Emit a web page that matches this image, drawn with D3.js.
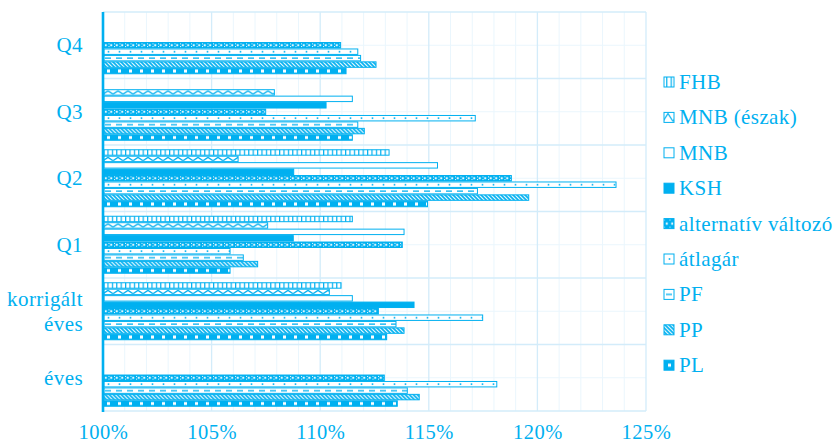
<!DOCTYPE html>
<html>
<head>
<meta charset="utf-8">
<script src="https://cdn.jsdelivr.net/npm/d3@7"></script>
<style>
  html, body { margin: 0; padding: 0; background: #ffffff; }
  svg { display: block; }
  svg text { font-family: "Liberation Serif", "Times New Roman", serif; fill: #00b0f0; }
</style>
</head>
<body>
<svg id="chart" width="835" height="442"></svg>
<script>
// ---- data ----
const categories = ["éves", "korrigált éves", "Q1", "Q2", "Q3", "Q4"];
const seriesNames = ["FHB", "MNB (észak)", "MNB", "KSH", "alternatív változó", "átlagár", "PF", "PP", "PL"];
const FHB      = [null,   110.96, 111.48, 113.17, null,   null];
const MNB_eszak= [null,   110.42, 107.58, 106.22, 107.89, null];
const MNB      = [null,   111.48, 113.86, 115.40, 111.48, null];
const KSH      = [null,   114.32, 108.76, 108.78, 110.27, null];
const alternativ=[112.95, 112.68, 113.78, 118.80, 107.49, 110.94];
const atlagar  = [118.13, 117.48, 105.85, 123.62, 117.14, 111.73];
const PF       = [114.01, 113.49, 106.46, 117.24, 111.73, 111.86];
const PP       = [114.56, 113.86, 107.12, 119.60, 112.03, 112.57];
const PL       = [113.55, 113.06, 105.85, 114.94, 111.48, 111.19];
const seriesValues = [FHB, MNB_eszak, MNB, KSH, alternativ, atlagar, PF, PP, PL];
const xTicks = [100, 105, 110, 115, 120, 125];

// ---- layout ----
const C = "#00b0f0";
const FONT = "'Liberation Serif', 'Times New Roman', serif";
const GRID_MAJOR = "#d3ecfa";
const GRID_MINOR = "#eaf6fd";
const svg = d3.select("#chart");
const defs = svg.append("defs");
const L = 103, R = 646, T = 12, B = 411;

const x = d3.scaleLinear().domain([100, 125]).range([L, R]);
const y = d3.scaleBand().domain(categories.slice().reverse()).range([T, B]).padding(0);
const yInner = d3.scaleBand().domain(seriesNames).range([0, y.bandwidth()])
  .paddingInner(0).paddingOuter(0.66);

// ---- grid ----
const grid = svg.append("g");
d3.range(100, 126, 1).filter(v => v % 5 !== 0).forEach(v => {
  grid.append("line").attr("x1", x(v)).attr("x2", x(v)).attr("y1", T).attr("y2", B)
    .attr("stroke", GRID_MINOR).attr("stroke-width", 1);
});
categories.forEach(c => {
  const yc = y(c) + y.bandwidth() / 2;
  grid.append("line").attr("x1", L).attr("x2", R).attr("y1", yc).attr("y2", yc)
    .attr("stroke", GRID_MINOR).attr("stroke-width", 1);
});
xTicks.forEach(v => {
  grid.append("line").attr("x1", x(v)).attr("x2", x(v)).attr("y1", T).attr("y2", B)
    .attr("stroke", GRID_MAJOR).attr("stroke-width", 1.3);
});
[T].concat(categories.map(c => y(c) + y.bandwidth())).forEach(yy => {
  grid.append("line").attr("x1", L).attr("x2", R).attr("y1", yy).attr("y2", yy)
    .attr("stroke", GRID_MAJOR).attr("stroke-width", 1.3);
});

// ---- patterns ----
function makePattern(id, si, py, h) {
  const widths = [4.4, 10, 10, 10, 5.5, 11, 11, 4, 11];
  const w = widths[si];
  const ph = si === 7 ? 4 : h;
  const p = defs.append("pattern").attr("id", id).attr("patternUnits", "userSpaceOnUse")
    .attr("x", L).attr("y", py).attr("width", w).attr("height", ph);
  const bg = (col) => p.append("rect").attr("width", w).attr("height", ph).attr("fill", col);
  switch (si) {
    case 0: // FHB vertical lines
      bg("#fff");
      p.append("rect").attr("x", 0).attr("width", 1.2).attr("height", h).attr("fill", C);
      break;
    case 1: // MNB (észak) zigzag
      bg("#fff");
      p.append("path").attr("d", `M0,${h - 1} L${w / 2},${1.2} L${w},${h - 1}`)
        .attr("fill", "none").attr("stroke", C).attr("stroke-width", 1.2);
      break;
    case 2: // MNB plain
      bg("#fff");
      break;
    case 3: // KSH solid
      bg(C);
      break;
    case 4: // alternatív: confetti
      bg(C);
      p.append("path").attr("d", `M${w / 2},${h / 2 - 1.4} L${w / 2 + 1.4},${h / 2} L${w / 2},${h / 2 + 1.4} L${w / 2 - 1.4},${h / 2} Z`).attr("fill", "#fff");
      p.append("rect").attr("x", 0).attr("y", 0.8).attr("width", 1).attr("height", 1).attr("fill", "#fff");
      p.append("rect").attr("x", 0).attr("y", h - 1.8).attr("width", 1).attr("height", 1).attr("fill", "#fff");
      break;
    case 5: // átlagár dots
      bg("#fff");
      p.append("rect").attr("x", w / 2 - 0.8).attr("y", h / 2 - 0.8).attr("width", 1.6).attr("height", 1.6).attr("fill", C);
      break;
    case 6: // PF dashes
      bg("#fff");
      p.append("rect").attr("x", 2).attr("y", h / 2 - 0.6).attr("width", 6).attr("height", 1.3).attr("fill", C);
      break;
    case 7: // PP diagonal
      bg(C);
      p.append("path").attr("d", "M0,0 L4,4 M-1,3 L1,5 M3,-1 L5,1")
        .attr("stroke", "#fff").attr("stroke-width", 1.1);
      break;
    case 8: // PL checks
      bg(C);
      p.append("rect").attr("x", 4).attr("y", h / 2 - 1.5).attr("width", 3).attr("height", 3).attr("fill", "#fff");
      break;
  }
}

// ---- bars ----
const barsG = svg.append("g");
const bh = yInner.bandwidth();
seriesNames.forEach((s, si) => {
  categories.forEach((c, ci) => {
    const v = seriesValues[si][ci];
    if (v === null) return;
    const by = y(c) + yInner(s) + 0.5;
    const h = bh - 1;
    const id = `p${si}_${ci}`;
    makePattern(id, si, by, h);
    barsG.append("rect")
      .attr("x", x(100) + 1).attr("y", by)
      .attr("width", x(v) - x(100) - 1).attr("height", h)
      .attr("fill", `url(#${id})`)
      .attr("stroke", C).attr("stroke-width", 1);
  });
});

// ---- axes ----
svg.append("line").attr("x1", L).attr("x2", L).attr("y1", T).attr("y2", B + 1)
  .attr("stroke", C).attr("stroke-width", 2.6);

const xAxis = svg.append("g").attr("transform", `translate(0,${B})`)
  .call(d3.axisBottom(x).tickValues(xTicks).tickSize(0).tickPadding(0).tickFormat(d => d + "%"));
xAxis.attr("font-family", FONT).attr("font-size", 20.5);
xAxis.select(".domain").remove();
xAxis.selectAll("text").attr("y", 27.5).attr("dy", 0)
  .attr("font-family", FONT).attr("font-size", 20.5).attr("fill", C)
  .attr("letter-spacing", 0.5);

categories.forEach(c => {
  const yc = y(c) + y.bandwidth() / 2;
  const parts = c === "korrigált éves" ? ["korrigált", "éves"] : [c];
  const t = svg.append("text").attr("text-anchor", "end")
    .attr("font-family", FONT).attr("font-size", 21).attr("fill", C)
    .attr("letter-spacing", 0.4);
  parts.forEach((p, i) => {
    t.append("tspan").attr("x", 83)
      .attr("y", yc + 7 + (i - (parts.length - 1) / 2) * 25)
      .text(p);
  });
});

// ---- legend ----
const lg = svg.append("g");
seriesNames.forEach((s, si) => {
  const cy = 82 + si * 35.4;
  const sy = cy - 5;
  const id = `lg${si}`;
  makePattern(id, si, sy, 10);
  lg.append("rect").attr("x", 664).attr("y", sy).attr("width", 10).attr("height", 10)
    .attr("fill", `url(#${id})`).attr("stroke", C).attr("stroke-width", 1);
  lg.append("text").attr("x", 679).attr("y", cy + 7)
    .attr("font-family", FONT).attr("font-size", 21).attr("fill", C)
    .attr("letter-spacing", 0.4).text(s);
});
</script>
</body>
</html>
